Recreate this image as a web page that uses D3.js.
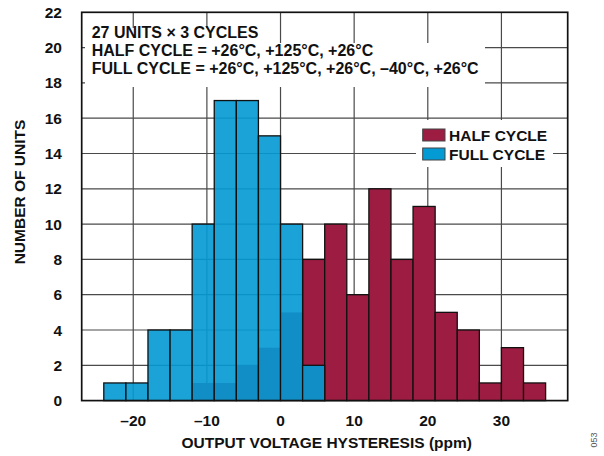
<!DOCTYPE html>
<html>
<head>
<meta charset="utf-8">
<script src="https://cdn.jsdelivr.net/npm/d3@7"></script>
<style>
  html, body { margin: 0; padding: 0; background: #fff; }
  text { font-family: "Liberation Sans", Arial, sans-serif; font-weight: bold; fill: #111; }
</style>
</head>
<body>
<svg id="chart" width="604" height="456"></svg>
<script>
// ---- data ----
const binStarts = [-24, -21, -18, -15, -12, -9, -6, -3, 0, 3, 6, 9, 12, 15, 18, 21, 24, 27, 30, 33];
const binWidth = 3;
const fullCycle = [1, 1, 4, 4, 10, 17, 17, 15, 10, 2, 0, 0, 0, 0, 0, 0, 0, 0, 0, 0];
const halfCycle = [0, 0, 0, 0, 1, 1, 2, 3, 5, 8, 10, 6, 12, 8, 11, 5, 4, 1, 3, 1];
const xTicks = [-20, -10, 0, 10, 20, 30];
const yTicks = [0, 2, 4, 6, 8, 10, 12, 14, 16, 18, 20, 22];
const noteLines = [
  "27 UNITS × 3 CYCLES",
  "HALF CYCLE = +26°C, +125°C, +26°C",
  "FULL CYCLE = +26°C, +125°C, +26°C, –40°C, +26°C"
];
const legendItems = ["HALF CYCLE", "FULL CYCLE"];

(function () {
// ---- layout ----
const pLeft = 81.7, pRight = 567.7, pTop = 12.3, pBottom = 400.6;
const RED = "#9d1c42";
const BLUE = "rgb(4,154,212)";
const BLUE_OP = 0.91;
const FS = 15.5;
const NOTE_FS = 16;

const svg = d3.select("#chart");
const x = d3.scaleLinear().domain([-27, 39]).range([pLeft, pRight]);
const y = d3.scaleLinear().domain([0, 22]).range([pBottom, pTop]);
const fmt = d => (d < 0 ? "–" + Math.abs(d) : String(d));

// grid
const grid = svg.append("g");
grid.selectAll("line.v").data(xTicks).join("line").attr("class", "v")
  .attr("x1", d => x(d)).attr("x2", d => x(d))
  .attr("y1", pTop).attr("y2", pBottom)
  .attr("stroke", "#4a4a4a").attr("stroke-width", 1.2);
grid.selectAll("line.h").data(yTicks.filter(d => d > 0 && d < 22)).join("line").attr("class", "h")
  .attr("x1", pLeft).attr("x2", pRight)
  .attr("y1", d => y(d)).attr("y2", d => y(d))
  .attr("stroke", "#4a4a4a").attr("stroke-width", 1.2);

// note text with white backgrounds
const noteG = svg.append("g");
const bg1 = noteG.append("rect").attr("fill", "#fff");
const bg2 = noteG.append("rect").attr("fill", "#fff");
const baselines = [37.5, 55.8, 74.1];
const noteTexts = noteG.selectAll("text").data(noteLines).join("text")
  .attr("x", 91.7).attr("y", (d, i) => baselines[i])
  .attr("font-size", NOTE_FS).text(d => d);
const widths = noteTexts.nodes().map(n => n.getComputedTextLength());
bg1.attr("x", 85).attr("y", 28).attr("width", widths[0] + 12).attr("height", 15.5);
bg2.attr("x", 85).attr("y", 43).attr("width", Math.max(widths[1], widths[2]) + 13).attr("height", 44);

// bars
const bw = x(binWidth) - x(0);
svg.append("g").selectAll("rect")
  .data(binStarts.map((s, i) => ({ s, v: halfCycle[i], o: fullCycle[i] })).filter(d => d.v > 0))
  .join("rect")
  .attr("x", d => x(d.s)).attr("width", bw)
  .attr("y", d => y(d.v)).attr("height", d => y(0) - y(d.v))
  .attr("fill", RED)
  .attr("stroke", d => d.v > d.o ? "#111" : "none").attr("stroke-width", 1.3);

svg.append("g").selectAll("rect")
  .data(binStarts.map((s, i) => ({ s, v: fullCycle[i] })).filter(d => d.v > 0))
  .join("rect")
  .attr("x", d => x(d.s)).attr("width", bw)
  .attr("y", d => y(d.v)).attr("height", d => y(0) - y(d.v))
  .attr("fill", BLUE).attr("fill-opacity", BLUE_OP)
  .attr("stroke", "#111").attr("stroke-width", 1.3);

// frame
svg.append("rect").attr("x", pLeft).attr("y", pTop)
  .attr("width", pRight - pLeft).attr("height", pBottom - pTop)
  .attr("fill", "none").attr("stroke", "#111").attr("stroke-width", 1.7);

// axes labels
svg.append("g").selectAll("text").data(yTicks).join("text")
  .attr("x", 62).attr("y", d => y(d)).attr("dy", "0.36em")
  .attr("text-anchor", "end").attr("font-size", FS).text(d => d);
svg.append("g").selectAll("text").data(xTicks).join("text")
  .attr("x", d => x(d)).attr("y", 426)
  .attr("text-anchor", "middle").attr("font-size", FS).text(fmt);

svg.append("text").attr("x", (pLeft + pRight) / 2 + 2).attr("y", 448)
  .attr("text-anchor", "middle").attr("font-size", FS)
  .text("OUTPUT VOLTAGE HYSTERESIS (ppm)");
svg.append("text").attr("transform", "translate(25,192) rotate(-90)")
  .attr("text-anchor", "middle").attr("font-size", FS)
  .text("NUMBER OF UNITS");

// legend
const lg = svg.append("g");
lg.append("rect").attr("x", 416).attr("y", 120).attr("width", 137).attr("height", 47).attr("fill", "#fff");
const lColors = [RED, BLUE];
legendItems.forEach((t, i) => {
  const yy = 129 + i * 19;
  lg.append("rect").attr("x", 422.7).attr("y", yy).attr("width", 22.3).attr("height", 12)
    .attr("fill", lColors[i]).attr("stroke", "#444").attr("stroke-width", 1);
  lg.append("text").attr("x", 449).attr("y", yy + 11.5).attr("font-size", FS).text(t);
});

// figure id
svg.append("text").attr("transform", "translate(597,440) rotate(-90)")
  .attr("text-anchor", "middle").attr("font-size", 9)
  .style("font-weight", "normal").style("fill", "#555").text("053");
})();
</script>
</body>
</html>
